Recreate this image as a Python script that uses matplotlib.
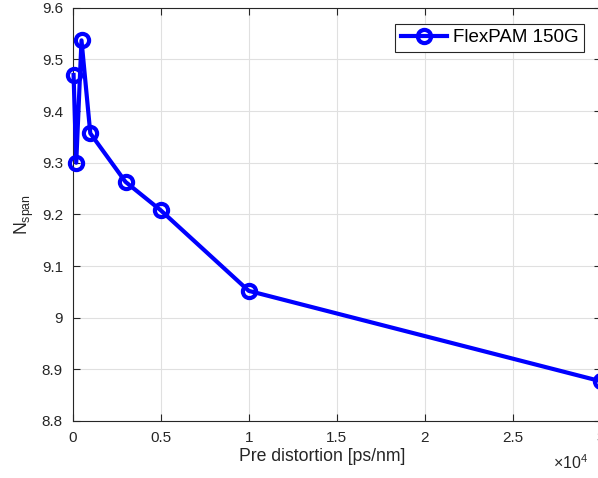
import matplotlib
matplotlib.use("Agg")
import matplotlib.pyplot as plt
from matplotlib.ticker import FuncFormatter

# 圖形設定 (MATLAB-like look)
plt.rcParams['font.family'] = ['Liberation Sans', 'DejaVu Sans']
plt.rcParams['mathtext.fontset'] = 'custom'
plt.rcParams['mathtext.rm'] = 'Liberation Sans'
plt.rcParams['mathtext.it'] = 'Liberation Sans:italic'
plt.rcParams['font.size'] = 11

# data
pre_dist = [50, 200, 500, 1000, 3000, 5000, 10000, 30000]
n_span = [9.47, 9.30, 9.537, 9.357, 9.263, 9.208, 9.052, 8.877]
x_ticks = [0, 5000, 10000, 15000, 20000, 25000, 30000]
y_ticks = [8.8, 8.9, 9.0, 9.1, 9.2, 9.3, 9.4, 9.5, 9.6]

dark = (0.15, 0.15, 0.15)

fig = plt.figure(figsize=(5.98, 4.78), dpi=100)
ax = fig.add_axes([72.7/598, 57/478, 528/598, 413.2/478])

ax.plot(pre_dist, n_span, '-o', color=(0, 0, 1), linewidth=3,
        markersize=9.5, markerfacecolor='none', markeredgewidth=3,
        label='FlexPAM 150G', clip_on=False, zorder=3)

ax.set_xlim(0, 30000)
ax.set_ylim(8.8, 9.6)
ax.set_xticks(x_ticks)
ax.set_yticks(y_ticks)
ax.xaxis.set_major_formatter(FuncFormatter(lambda v, p: '%g' % (v / 1e4)))
ax.yaxis.set_major_formatter(FuncFormatter(lambda v, p: '%g' % round(v, 2)))

ax.grid(True, color=(0.88, 0.88, 0.88), linewidth=0.8)
ax.set_axisbelow(True)
for s in ax.spines.values():
    s.set_color(dark)
    s.set_linewidth(0.8)
ax.tick_params(direction='in', length=5, colors=dark,
               labelsize=11, top=True, right=True, pad=7)

ax.set_xlabel('Pre distortion [ps/nm]', fontsize=12.7, color=dark, labelpad=5)
ax.xaxis.set_label_coords(0.473, -0.085)
ax.xaxis.label.set_verticalalignment('center')
ax.set_ylabel(r'N$_{\rm span}$', fontsize=12.7, color=dark, labelpad=4)

fig.text(553/598, 1 - 469/478, r'$\times$10$^{4}$', fontsize=11.5,
         color=dark, va='baseline')

leg = ax.legend(loc='upper right', bbox_to_anchor=(0.968, 0.962), borderaxespad=0,
                fancybox=False, framealpha=1, edgecolor=dark, fontsize=13.5,
                handlelength=2.45, handletextpad=0.3, borderpad=0.3)
leg.get_frame().set_linewidth(0.8)

plt.savefig('out.png', dpi=100)
